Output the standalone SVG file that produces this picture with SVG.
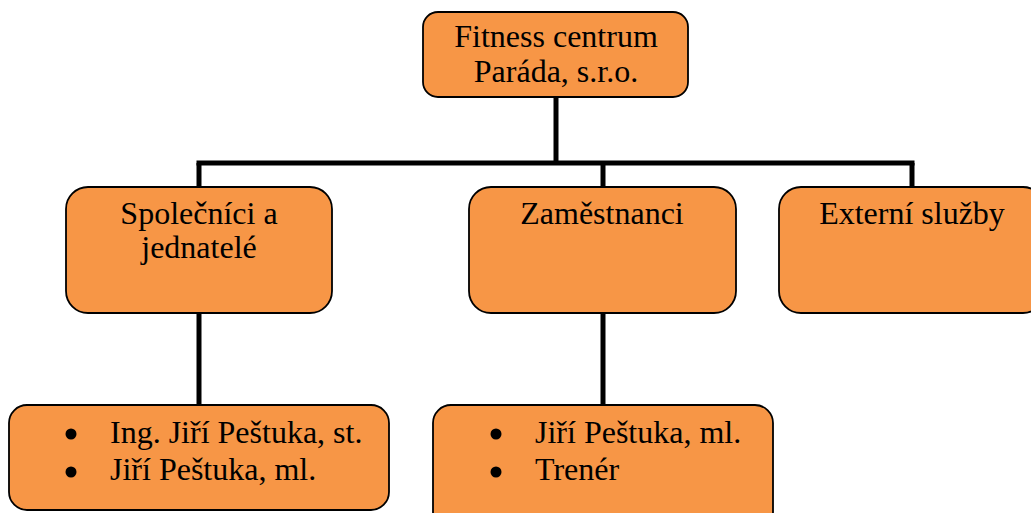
<svg xmlns="http://www.w3.org/2000/svg" width="1031" height="513" viewBox="0 0 1031 513">
<style>
.box{fill:#F79646;stroke:#000;stroke-width:1.8}
.t{font-family:"Liberation Serif","Times New Roman",serif;font-size:32px;fill:#000}
.c{text-anchor:middle}
.ln{stroke:#000;stroke-width:5;fill:none}
</style>
<rect width="1031" height="513" fill="#fff"/>
<g id="connectors">
<line class="ln" x1="556" y1="97" x2="556" y2="163"/>
<line class="ln" x1="196.5" y1="163" x2="914.5" y2="163"/>
<line class="ln" x1="199" y1="163" x2="199" y2="187"/>
<line class="ln" x1="603" y1="163" x2="603" y2="187"/>
<line class="ln" x1="912" y1="163" x2="912" y2="187"/>
<line class="ln" x1="199" y1="313" x2="199" y2="405"/>
<line class="ln" x1="603" y1="313" x2="603" y2="405"/>
</g>
<g id="n-top">
<rect class="box" x="423" y="12" width="265" height="85" rx="15"/>
<text class="t c" x="556" y="47">Fitness centrum</text>
<text class="t c" x="556" y="82">Paráda, s.r.o.</text>
</g>
<g id="n-spolecnici">
<rect class="box" x="66" y="187" width="266" height="126" rx="22"/>
<text class="t c" x="199" y="224">Společníci a</text>
<text class="t c" x="199" y="258">jednatelé</text>
</g>
<g id="n-zamestnanci">
<rect class="box" x="469" y="187" width="267" height="126" rx="22"/>
<text class="t c" x="602" y="224">Zaměstnanci</text>
</g>
<g id="n-externi">
<rect class="box" x="779" y="187" width="266" height="126" rx="22"/>
<text class="t c" x="912" y="224">Externí služby</text>
</g>
<g id="n-list1">
<rect class="box" x="9" y="405" width="380" height="105" rx="18"/>
<circle cx="71" cy="434" r="5.5"/>
<circle cx="71" cy="472" r="5.5"/>
<text class="t" x="110" y="443">Ing. Jiří Peštuka, st.</text>
<text class="t" x="110" y="480">Jiří Peštuka, ml.</text>
</g>
<g id="n-list2">
<rect class="box" x="433" y="405" width="340" height="125" rx="18"/>
<circle cx="496" cy="434" r="5.5"/>
<circle cx="496" cy="472" r="5.5"/>
<text class="t" x="535" y="443">Jiří Peštuka, ml.</text>
<text class="t" x="535" y="480">Trenér</text>
</g>
</svg>
